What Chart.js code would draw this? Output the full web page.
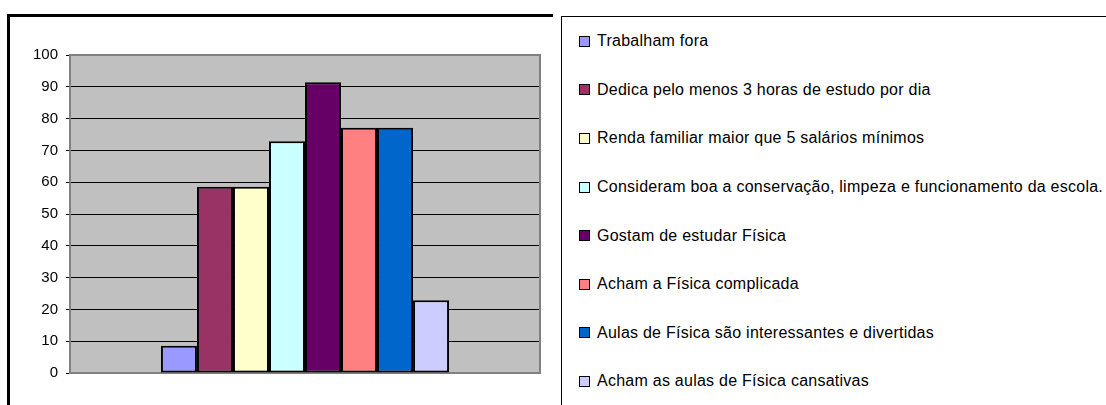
<!DOCTYPE html>
<html lang="pt-BR">
<head>
  <meta charset="UTF-8">
  <meta name="viewport" content="width=device-width, initial-scale=1.0">
  <script src="https://cdn.jsdelivr.net/npm/chart.js"></script>
  <title>Pesquisa com alunos</title>
  <style>
    body{margin: 0; background: #fff; font-family: "Liberation Sans", Arial, sans-serif;}
    #main{position: relative; width: 1106px; height: 405px; overflow: hidden;}
    #grafico{position: absolute; left: 7px; top: 14px; width: 546px; height: 420px;
      border-top: 3px solid #000; border-left: 3px solid #000; box-sizing: border-box;}
    #wrap{position: absolute; left: 0; top: 0;}
    #legendaBox{position: absolute; left: 561px; top: 16px; width: 600px; height: 420px;
      border-top: 1px solid #000; border-left: 1px solid #000;}
    #legenda{position: absolute; left: 579px; top: 17px; margin: 0; padding: 0; list-style: none;}
    #legenda li{height: 48.6px; display: flex; align-items: center; font-size: 16px; letter-spacing: 0.25px; color: #000; white-space: nowrap;}
    #legenda span{display: inline-block; width: 9px; height: 9px; border: 1px solid #000; margin-right: 7px;}
  </style>
</head>
<body>
  <div id="main">
    <div id="grafico"></div>
    <div id="legendaBox"></div>
    <div id="wrap"><canvas id="myChart" width="560" height="405"></canvas></div>
    <ul id="legenda"></ul>
  </div>
  <script>
    // dados da pesquisa (%)
    const categorias = [''];
    const series = [
      'Trabalham fora',
      'Dedica pelo menos 3 horas de estudo por dia',
      'Renda familiar maior que 5 salários mínimos',
      'Consideram boa a conservação, limpeza e funcionamento da escola.',
      'Gostam de estudar Física',
      'Acham a Física complicada',
      'Aulas de Física são interessantes e divertidas',
      'Acham as aulas de Física cansativas'
    ];
    const valores = [8.6, 58.6, 58.6, 72.9, 91.4, 77.1, 77.1, 22.9];
    const cores = ['#9999FF', '#993366', '#FFFFCC', '#CCFFFF', '#660066', '#FF8080', '#0066CC', '#CCCCFF'];
    const yMin = 0, yMax = 100, yPasso = 10;

    // fundo cinza da area do grafico
    const fundoPlot = {
      id: 'fundoPlot',
      beforeDraw(chart){
        const {ctx, chartArea: a} = chart;
        ctx.save();
        ctx.fillStyle = '#C0C0C0';
        ctx.fillRect(a.left, a.top, a.right - a.left, a.bottom - a.top);
        ctx.restore();
      },
      beforeDatasetsDraw(chart){
        const {ctx, chartArea: a} = chart;
        ctx.save();
        ctx.strokeStyle = '#808080';
        ctx.lineWidth = 2;
        ctx.strokeRect(a.left, a.top, a.right - a.left, a.bottom - a.top);
        ctx.restore();
      }
    };

    const datasets = series.map((nome, i) => ({
      label: nome,
      data: [valores[i]],
      backgroundColor: cores[i],
      borderColor: '#000',
      borderWidth: 2,
      borderSkipped: false
    }));

    const ctx = document.getElementById('myChart');
    const chart = new Chart(ctx, {
      type: 'bar',
      data: { labels: categorias, datasets: datasets },
      options: {
        responsive: false,
        animation: false,
        devicePixelRatio: 1,
        categoryPercentage: 0.613,
        barPercentage: 1,
        layout: { padding: { top: 55, bottom: 32, right: 20, left: 0 } },
        plugins: { legend: { display: false }, tooltip: { enabled: false } },
        scales: {
          x: { display: false },
          y: {
            min: yMin, max: yMax,
            afterFit(scale){ scale.width = 70; },
            ticks: {
              stepSize: yPasso,
              padding: 8,
              color: '#000',
              font: { family: '"Liberation Sans", Arial, sans-serif', size: 15 }
            },
            grid: { color: '#000', lineWidth: 1, tickLength: 4 },
            border: { color: '#000', width: 1 }
          }
        }
      },
      plugins: [fundoPlot]
    });

    // legenda ao lado
    const lista = document.getElementById('legenda');
    chart.data.datasets.forEach(ds => {
      const li = document.createElement('li');
      const quad = document.createElement('span');
      quad.style.background = ds.backgroundColor;
      li.appendChild(quad);
      li.appendChild(document.createTextNode(ds.label));
      lista.appendChild(li);
    });
  </script>
</body>
</html>
